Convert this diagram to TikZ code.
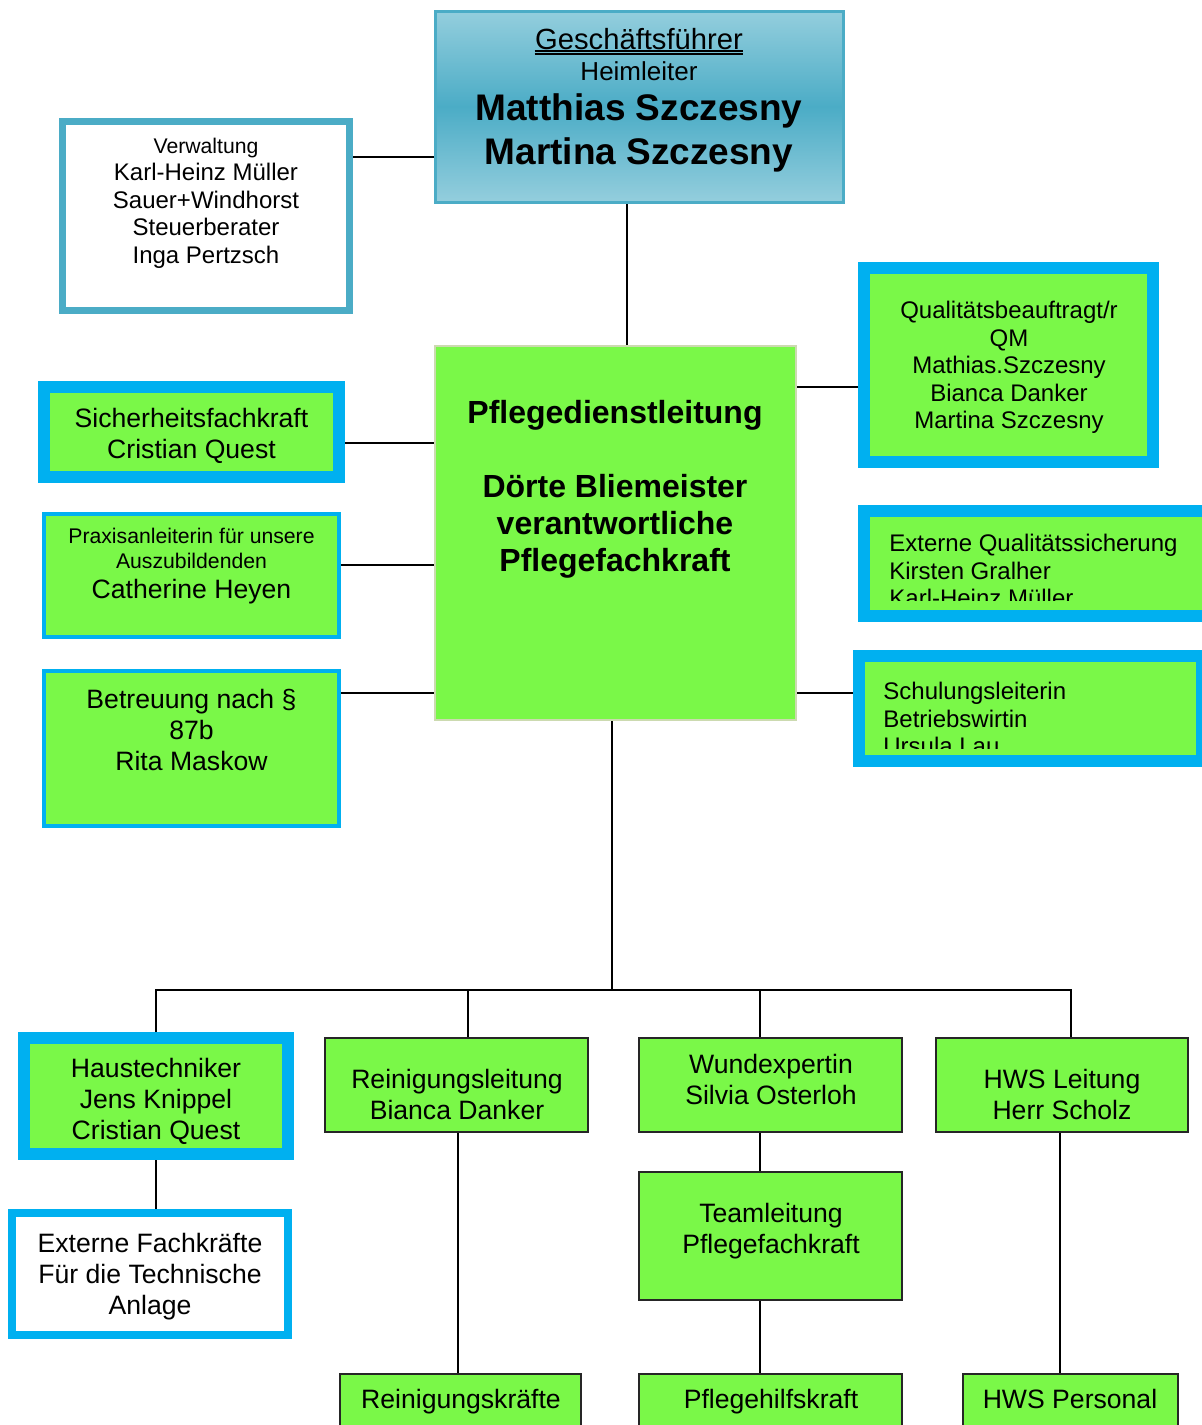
\documentclass[tikz,border=0pt]{standalone}
\usepackage{fontspec}
\setmainfont{Liberation Sans}
\usetikzlibrary{backgrounds}

\definecolor{pgreen}{RGB}{122,248,72}
\definecolor{pblue}{RGB}{0,176,240}
\definecolor{pteal}{RGB}{75,172,198}
\definecolor{plight}{RGB}{148,206,221}
\definecolor{pdlframe}{RGB}{204,218,176}

\newcommand{\fbig}{\fontsize{13.3pt}{15.5pt}\selectfont}
\newcommand{\fmid}{\fontsize{12pt}{13.75pt}\selectfont}
\newcommand{\fsmall}{\fontsize{10.6pt}{12.5pt}\selectfont}

\begin{document}
\begin{tikzpicture}[x=0.5pt, y=-0.5pt,
    orgbox/.style={rectangle, inner sep=0pt},
    thickblue/.style={orgbox, draw=pblue, fill=pgreen, line width=6pt},
    thinblue/.style={orgbox, draw=pblue, fill=pgreen, line width=2pt},
    blackbox/.style={orgbox, draw=black!85, fill=pgreen, line width=1pt},
    txt/.style={inner sep=0pt, align=center, font=\fbig},
    conn/.style={line width=1pt}]
  \useasboundingbox (0,0) rectangle (1202,1425);
  \clip (0,0) rectangle (1202,1425);

  % Geschaeftsfuehrung
  \node[orgbox, draw=pteal, line width=1.5pt, top color=plight, bottom color=plight, middle color=pteal,
        minimum width=204pt, minimum height=95.5pt] (gf) at (639,106.5) {};
  \node[txt, anchor=base, font=\fontsize{14.6pt}{16pt}\selectfont] (gft1) at (639,49) {Geschäftsführer};
  \node[txt, anchor=base, font=\fontsize{13pt}{15pt}\selectfont] (gft2) at (639,80) {Heimleiter};
  \node[txt, anchor=base, font=\bfseries\fontsize{18.5pt}{22pt}\selectfont] (gft3) at (639,120) {Matthias Szczesny};
  \node[txt, anchor=base, font=\bfseries\fontsize{18.5pt}{22pt}\selectfont] (gft4) at (639,164) {Martina Szczesny};
  \draw[line width=0.6pt] ([yshift=-1pt]gft1.base west) -- ([yshift=-1pt]gft1.base east);
  \draw[line width=0.6pt] ([yshift=-2.5pt]gft1.base west) -- ([yshift=-2.5pt]gft1.base east);

  % Verwaltung
  \node[orgbox, draw=pteal, fill=white, line width=3.5pt, minimum width=143.75pt, minimum height=94.5pt] (verw) at (205.75,215.5) {};
  \node[txt, font=\fmid] (verwt) at (206,203) {{\fsmall Verwaltung}\\Karl-Heinz Müller\\Sauer+Windhorst\\Steuerberater\\Inga Pertzsch};

  % Pflegedienstleitung
  \node[orgbox, draw=pdlframe, fill=pgreen, line width=1pt, minimum width=180.5pt, minimum height=186.75pt] (pdl) at (615,532.75) {};
  \node[txt, font=\bfseries\fontsize{16pt}{18.5pt}\selectfont] (pdlt) at (615,489)
    {Pflegedienstleitung\\[18.5pt]Dörte Bliemeister\\verantwortliche\\Pflegefachkraft};

  % links
  \node[thickblue, minimum width=147.5pt, minimum height=45pt] (sifa) at (191.5,431.7) {};
  \node[txt] (sifat) at (191.5,435.5) {Sicherheitsfachkraft\\Cristian Quest};
  \node[thinblue, minimum width=147.5pt, minimum height=61.65pt] (praxis) at (191.5,575.35) {};
  \node[txt, font=\fsmall] (praxist) at (191.5,566.5) {Praxisanleiterin für unsere\\Auszubildenden\\[2.5pt]{\fbig Catherine Heyen}};
  \node[thinblue, minimum width=147.5pt, minimum height=77.2pt] (betr) at (191.5,748.5) {};
  \node[txt] (betrt) at (191.5,729.5) {Betreuung nach §\\87b\\Rita Maskow};

  % rechts
  \node[thickblue, minimum width=144.5pt, minimum height=97.15pt] (qm) at (1008.5,364.85) {};
  \node[txt, font=\fmid] (qmt) at (1009,367.5) {Qualitätsbeauftragt/r\\QM\\Mathias.Szczesny\\Bianca Danker\\Martina Szczesny};
  \node[thickblue, minimum width=172pt, minimum height=52.5pt] (extqs) at (1036,563.5) {};
  \node[thickblue, minimum width=171.5pt, minimum height=52.35pt] (schul) at (1030.5,708.5) {};
  \begin{scope}
    \clip (871,517) rectangle (1202,600);
    \node[txt, font=\fmid, align=left, anchor=north west] (extqst) at (889,534) {Externe Qualitätssicherung\\Kirsten Gralher\\Karl-Heinz Müller};
  \end{scope}
  \begin{scope}
    \clip (865,662) rectangle (1202,748);
    \node[txt, font=\fmid, align=left, anchor=north west] (schult) at (883,682) {Schulungsleiterin\\Betriebswirtin\\Ursula Lau};
  \end{scope}

  % untere Ebene
  \node[thickblue, minimum width=131.85pt, minimum height=58.15pt] (haus) at (156.15,1095.85) {};
  \node[txt] (haust) at (156,1101) {Haustechniker\\Jens Knippel\\Cristian Quest};
  \node[orgbox, draw=pblue, fill=white, line width=4pt, minimum width=137.85pt, minimum height=60.85pt] (extfach) at (150.15,1274.15) {};
  \node[txt] (extfacht) at (150,1276.5) {Externe Fachkräfte\\Für die Technische\\Anlage};

  \node[blackbox, minimum width=131.5pt, minimum height=47pt] (rein) at (456.5,1085) {};
  \node[txt] (reint) at (457,1094.5) {Reinigungsleitung\\Bianca Danker};
  \node[blackbox, minimum width=131.5pt, minimum height=47pt] (wund) at (770.5,1085) {};
  \node[txt] (wundt) at (771,1079) {Wundexpertin\\Silvia Osterloh};
  \node[blackbox, minimum width=126pt, minimum height=47pt] (hws) at (1062,1085) {};
  \node[txt] (hwst) at (1062,1094.5) {HWS Leitung\\Herr Scholz};
  \node[blackbox, minimum width=131.5pt, minimum height=64pt] (team) at (770.5,1236) {};
  \node[txt] (teamt) at (771,1231.5) {Teamleitung\\Pflegefachkraft};

  \node[blackbox, minimum width=120.5pt, minimum height=32.5pt] (reinkr) at (460.5,1406.5) {};
  \node[txt] (reinkrt) at (461,1402) {Reinigungskräfte};
  \node[blackbox, minimum width=131.5pt, minimum height=32.5pt] (pfhk) at (770.5,1406.5) {};
  \node[txt] (pfhkt) at (771,1402) {Pflegehilfskraft};
  \node[blackbox, minimum width=107.5pt, minimum height=32.5pt] (hwsp) at (1070.5,1406.5) {};
  \node[txt] (hwspt) at (1070,1399) {HWS Personal};

  \coordinate (bar) at (612,989.5);

  \begin{scope}[on background layer]
    \draw[conn] (gf.south -| 627,0) -- (pdl.north -| 627,0);
    \draw[conn] (verw.east |- 0,157) -- (gf.west |- 0,157);
    \draw[conn] (sifa.east |- 0,442.5) -- (pdl.west |- 0,442.5);
    \draw[conn] (praxis.east |- 0,565) -- (pdl.west |- 0,565);
    \draw[conn] (betr.east |- 0,692.5) -- (pdl.west |- 0,692.5);
    \draw[conn] (pdl.east |- 0,386.5) -- (qm.west |- 0,386.5);
    \draw[conn] (pdl.east |- 0,693) -- (schul.west |- 0,693);
    \draw[conn, line width=1.3pt] (pdl.south -| bar) -- (bar);
    \draw[conn] (haus.north) |- (bar) -| (hws.north -| 1070.5,0);
    \draw[conn] (rein.north -| 468,0) -- (bar -| 468,0);
    \draw[conn] (wund.north -| 760,0) -- (bar -| 760,0);
    \draw[conn] (haus.south) -- (extfach.north -| haus.south);
    \draw[conn] (rein.south -| 458,0) -- (reinkr.north -| 458,0);
    \draw[conn] (wund.south -| 760,0) -- (team.north -| 760,0);
    \draw[conn] (team.south -| 760,0) -- (pfhk.north -| 760,0);
    \draw[conn] (hws.south -| 1060,0) -- (hwsp.north -| 1060,0);
  \end{scope}
\end{tikzpicture}
\end{document}
